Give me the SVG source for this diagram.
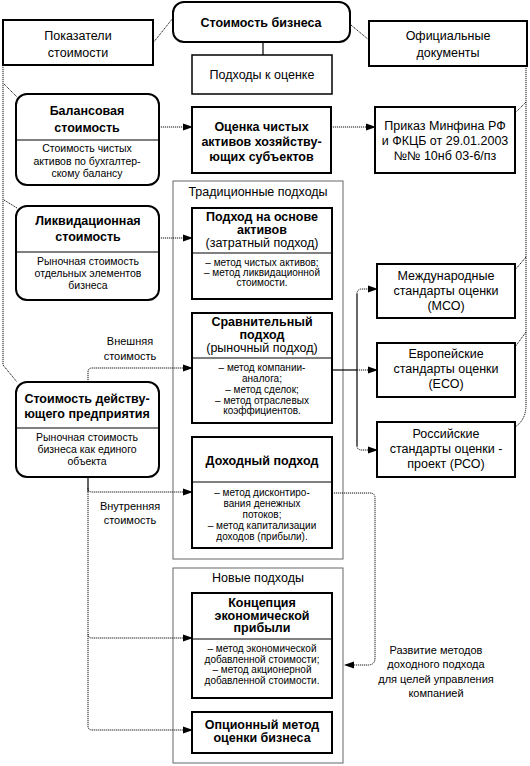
<svg xmlns="http://www.w3.org/2000/svg" width="530" height="766" viewBox="0 0 530 766">
<style>
text{font-family:"Liberation Sans",Arial,sans-serif;fill:#000;text-anchor:middle}
.b{font-weight:bold;font-size:12.5px}
.r{font-size:12.5px}
.m{font-size:10.5px}
.s{font-size:10px}
.l{font-size:11px}
.box{fill:#fff;stroke:#000;stroke-width:2}
.thin{fill:#fff;stroke:#000;stroke-width:1.5}
.cont{fill:#fff;stroke:#666;stroke-width:1}
.div{stroke:#000;stroke-width:1}
.dot{fill:none;stroke:#111;stroke-width:1;stroke-dasharray:1.2 0.8}
.sol{fill:none;stroke:#000;stroke-width:1.2}
</style>
<defs>
<marker id="ar" markerWidth="10" markerHeight="8" refX="9" refY="4" orient="auto" markerUnits="userSpaceOnUse">
<path d="M0,0.5 L10,4 L0,7.5 Z" fill="#000"/>
</marker>
</defs>
<g id="cont-trad"><rect class="cont" x="173" y="181" width="170" height="378"/><text class="r" x="258" y="196">Традиционные подходы</text></g>
<g id="cont-new"><rect class="cont" x="173" y="568" width="170" height="195"/><text class="r" x="258" y="582">Новые подходы</text></g>
<g id="connectors">
<path class="dot" d="M153,43 L173,18"/>
<path class="dot" d="M351,25 L369,40"/>
<path class="sol" d="M263,42 V55"/>
<path class="dot" d="M3,65 V365 L17,382"/>
<path class="dot" d="M4,84 L17,97"/>
<path class="dot" d="M4,200 L17,208"/>
<path class="dot" d="M526,66 V405 Q526,420 515,427"/>
<path class="dot" d="M526,102 L515,113"/>
<path class="dot" d="M526,257 L515,270"/>
<path class="dot" d="M526,332 L515,347"/>
<path class="dot" d="M159,127 H192" marker-end="url(#ar)"/>
<path class="dot" d="M331,127 H375" marker-end="url(#ar)"/>
<path class="dot" d="M159,238 H192" marker-end="url(#ar)"/>
<path class="dot" d="M88,382 V372 Q88,368 92,368 H192" marker-end="url(#ar)"/>
<path class="sol" d="M88,477 V492"/>
<path class="dot" d="M88,488 Q88,492 92,492 H192" marker-end="url(#ar)"/>
<path class="dot" d="M88,492 V726 Q88,730 92,730 H192" marker-end="url(#ar)"/>
<path class="dot" d="M88,634 Q88,638 92,638 H192" marker-end="url(#ar)"/>
<path class="sol" d="M332,370 H357"/>
<path class="sol" d="M357,294 V446"/>
<path class="dot" d="M357,294 Q357,289 362,289 H377" marker-end="url(#ar)"/>
<path class="dot" d="M357,370 H377" marker-end="url(#ar)"/>
<path class="dot" d="M357,446 Q357,450 362,450 H377" marker-end="url(#ar)"/>
<path class="dot" d="M332,493 H370 Q375,493 375,498 V658 Q375,665 368,665 H345" marker-end="url(#ar)"/>
</g>
<g id="n-pokazateli"><rect class="box" x="3" y="20" width="150" height="45"/><text class="r" x="78" y="40">Показатели</text><text class="r" x="78" y="57">стоимости</text></g>
<g id="n-stoimost-biznesa"><rect class="box" x="173" y="2" width="177" height="40" rx="11"/><text class="b" x="261" y="26.5">Стоимость бизнеса</text></g>
<g id="n-podhody"><rect class="thin" x="192" y="55" width="140" height="39"/><text class="r" x="262" y="78.5">Подходы к оценке</text></g>
<g id="n-oficialnye"><rect class="box" x="369" y="21" width="158" height="45"/><text class="r" x="448" y="40">Официальные</text><text class="r" x="448" y="57">документы</text></g>
<g id="n-balans"><rect class="box" x="16" y="94" width="143" height="91" rx="11"/><line class="div" x1="16" y1="140" x2="159" y2="140"/><text class="b" x="87" y="114.5">Балансовая</text><text class="b" x="87" y="131.5">стоимость</text><text class="m" x="87" y="152">Стоимость чистых</text><text class="m" x="87" y="164.5">активов по бухгалтер-</text><text class="m" x="87" y="177">скому балансу</text></g>
<g id="n-ocenka"><rect class="box" x="192" y="107" width="139" height="66"/><text class="b" x="261.5" y="130.5">Оценка чистых</text><text class="b" x="261.5" y="145.5">активов хозяйству-</text><text class="b" x="261.5" y="160.5">ющих субъектов</text></g>
<g id="n-prikaz"><rect class="box" x="375" y="107" width="140" height="66"/><text class="r" x="445" y="129.5">Приказ Минфина РФ</text><text class="r" x="445" y="144.5">и ФКЦБ от 29.01.2003</text><text class="r" x="445" y="159.5">№№ 10нб 03-6/пз</text></g>
<g id="n-likvid"><rect class="box" x="16" y="206" width="143" height="94" rx="11"/><line class="div" x1="16" y1="252" x2="159" y2="252"/><text class="b" x="88" y="224.5">Ликвидационная</text><text class="b" x="88" y="240.5">стоимость</text><text class="m" x="88" y="265">Рыночная стоимость</text><text class="m" x="88" y="277">отдельных элементов</text><text class="m" x="88" y="289">бизнеса</text></g>
<g id="n-aktivy"><rect class="box" x="192" y="208" width="140" height="91"/><line class="div" x1="192" y1="253" x2="332" y2="253"/><text class="b" x="262" y="221">Подход на основе</text><text class="b" x="262" y="233.5">активов</text><text class="r" x="262" y="246.5">(затратный подход)</text><text class="s" x="262" y="265.5">– метод чистых активов;</text><text class="s" x="262" y="275.5">– метод ликвидационной</text><text class="s" x="262" y="285.5">стоимости.</text></g>
<g id="n-sravn"><rect class="box" x="192" y="313" width="140" height="110"/><line class="div" x1="192" y1="358" x2="332" y2="358"/><text class="b" x="262" y="326">Сравнительный</text><text class="b" x="262" y="338.5">подход</text><text class="r" x="262" y="351.5">(рыночный подход)</text><text class="s" x="262" y="370.5">– метод компании-</text><text class="s" x="262" y="381.5">аналога;</text><text class="s" x="262" y="392.5">– метод сделок;</text><text class="s" x="262" y="403.5">– метод отраслевых</text><text class="s" x="262" y="413.5">коэффициентов.</text></g>
<g id="n-deistv"><rect class="box" x="16" y="382" width="143" height="95" rx="11"/><line class="div" x1="16" y1="428" x2="159" y2="428"/><text class="b" x="87" y="402.5">Стоимость действу-</text><text class="b" x="87" y="417.5">ющего предприятия</text><text class="m" x="87" y="441">Рыночная стоимость</text><text class="m" x="87" y="453">бизнеса как единого</text><text class="m" x="87" y="465">объекта</text></g>
<g id="n-dohod"><rect class="box" x="192" y="437" width="140" height="111"/><line class="div" x1="192" y1="482" x2="332" y2="482"/><text class="b" x="262" y="464.5">Доходный подход</text><text class="s" x="262" y="495.5">– метод дисконтиро-</text><text class="s" x="262" y="506.5">вания денежных</text><text class="s" x="262" y="517.5">потоков;</text><text class="s" x="262" y="528.5">– метод капитализации</text><text class="s" x="262" y="539.5">доходов (прибыли).</text></g>
<g id="n-mso"><rect class="box" x="377" y="264" width="138" height="54"/><text class="r" x="446" y="279.5">Международные</text><text class="r" x="446" y="294.5">стандарты оценки</text><text class="r" x="446" y="309.5">(МСО)</text></g>
<g id="n-eso"><rect class="box" x="377" y="343" width="138" height="54"/><text class="r" x="446" y="358">Европейские</text><text class="r" x="446" y="373">стандарты оценки</text><text class="r" x="446" y="388">(ЕСО)</text></g>
<g id="n-rso"><rect class="box" x="377" y="422" width="138" height="55"/><text class="r" x="446" y="437.5">Российские</text><text class="r" x="446" y="452.5">стандарты оценки -</text><text class="r" x="446" y="467.5">проект (РСО)</text></g>
<g id="n-koncep"><rect class="box" x="192" y="593" width="140" height="105"/><line class="div" x1="192" y1="639" x2="332" y2="639"/><text class="b" x="262" y="607">Концепция</text><text class="b" x="262" y="619.5">экономической</text><text class="b" x="262" y="632">прибыли</text><text class="s" x="262" y="651.5">– метод экономической</text><text class="s" x="262" y="662.5">добавленной стоимости;</text><text class="s" x="262" y="673">– метод акционерной</text><text class="s" x="262" y="684">добавленной стоимости.</text></g>
<g id="n-opcion"><rect class="box" x="192" y="712" width="140" height="41"/><text class="b" x="262" y="728.5">Опционный метод</text><text class="b" x="262" y="742">оценки бизнеса</text></g>
<g id="labels">
<text class="l" x="130" y="345">Внешняя</text><text class="l" x="130" y="360">стоимость</text>
<text class="l" x="130" y="510">Внутренняя</text><text class="l" x="130" y="524">стоимость</text>
<text class="l" x="436" y="654">Развитие методов</text><text class="l" x="436" y="668">доходного подхода</text><text class="l" x="436" y="683">для целей управления</text><text class="l" x="436" y="697">компанией</text>
</g>
</svg>
